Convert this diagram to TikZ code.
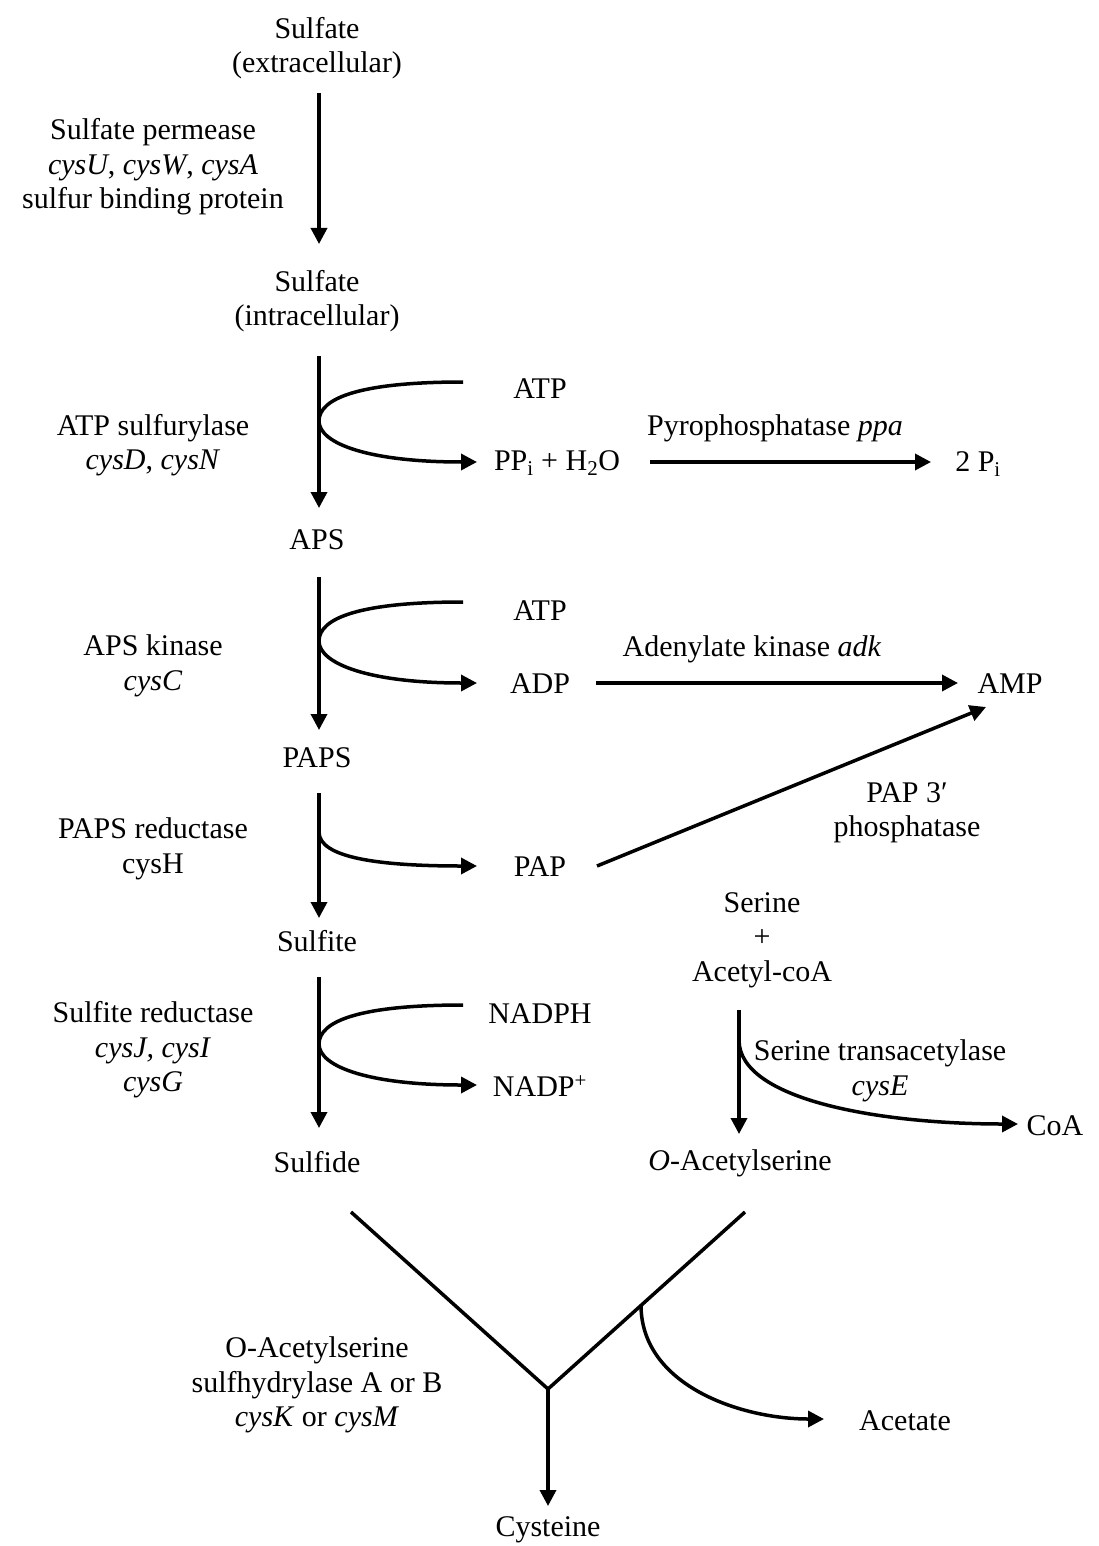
\documentclass[tikz,border=0pt]{standalone}
\usepackage{fontspec}
\setmainfont{Liberation Serif}
\usetikzlibrary{arrows.meta}
\begin{document}
\begin{tikzpicture}[x=1pt,y=-1pt,
  txt/.style={inner sep=0pt,align=center,font=\fontsize{30}{34.5}\selectfont},
  ln/.style={line width=3.5pt},
  arr/.style={line width=3.5pt,-{Triangle[length=16pt,width=16pt]}}]
\useasboundingbox (0,0) rectangle (1098,1546);
% main column texts
\node[txt] (sulfex) at (317,48) {Sulfate\\(extracellular)};
\node[txt] (sulfin) at (317,301) {Sulfate\\(intracellular)};
\node[txt] (aps) at (317,540) {APS};
\node[txt] (paps) at (317,758) {PAPS};
\node[txt] (sulfite) at (317,941) {Sulfite};
\node[txt] (sulfide) at (317,1162) {Sulfide};
\node[txt] (cys) at (548,1530) {Cysteine};
% enzymes
\node[txt] (e1) at (153,167) {Sulfate permease\\\textit{cysU}, \textit{cysW}, \textit{cysA}\\sulfur binding protein};
\node[txt] (e2) at (153,445) {ATP sulfurylase\\\textit{cysD}, \textit{cysN}};
\node[txt] (e3) at (153,666) {APS kinase\\\textit{cysC}};
\node[txt] (e4) at (153,849) {PAPS reductase\\cysH};
\node[txt] (e5) at (153,1050) {Sulfite reductase\\\textit{cysJ, cysI}\\\textit{cysG}};
\node[txt] (e6) at (317,1385) {O-Acetylserine\\sulfhydrylase A or B\\\textit{cysK} or \textit{cysM}};
% side species
\node[txt] (atp1) at (540,389) {ATP};
\node[txt] (ppi) at (557,463) {PP\textsubscript{i} + H\textsubscript{2}O};
\node[txt] (twopi) at (978,464) {2 P\textsubscript{i}};
\node[txt] (ppa) at (775,428) {Pyrophosphatase \textit{ppa}};
\node[txt] (atp2) at (540,611) {ATP};
\node[txt] (adp) at (540,684) {ADP};
\node[txt] (adk) at (752,649) {Adenylate kinase \textit{adk}};
\node[txt] (amp) at (1010,684) {AMP};
\node[txt] (pap) at (540,867) {PAP};
\node[txt] (pap3) at (907,813) {PAP 3′\\phosphatase};
\node[txt] (nadph) at (540,1014) {NADPH};
\node[txt] (nadp) at (540,1086) {NADP\textsuperscript{+}};
\node[txt] (ser) at (762,940) {Serine\\+\\Acetyl-coA};
\node[txt] (sta) at (880,1071) {Serine transacetylase\\\textit{cysE}};
\node[txt] (coa) at (1055,1126) {CoA};
\node[txt] (oas) at (740,1163) {\textit{O}-Acetylserine};
\node[txt] (acet) at (905,1421) {Acetate};
% coordinates
\coordinate (a1s) at (319,93); \coordinate (a1e) at (319,244);
\coordinate (a2s) at (319,356); \coordinate (a2e) at (319,508);
\coordinate (a3s) at (319,577); \coordinate (a3e) at (319,730);
\coordinate (a4s) at (319,793); \coordinate (a4e) at (319,918);
\coordinate (a5s) at (319,977); \coordinate (a5e) at (319,1128);
\coordinate (sers) at (739,1010); \coordinate (sere) at (739,1134);
\coordinate (yl) at (351,1212); \coordinate (yr) at (745,1212);
\coordinate (yj) at (548,1389); \coordinate (ye) at (548,1506);
\coordinate (acb) at (641,1305);
\coordinate (pps) at (650,462); \coordinate (ppe) at (931,462);
\coordinate (ads) at (596,683); \coordinate (ade) at (958,683);
\coordinate (paps0) at (597,866); \coordinate (pape) at (986,707);
% main arrows
\draw[arr] (a1s) -- (a1e);
\draw[arr] (a2s) -- (a2e);
\draw[arr] (a3s) -- (a3e);
\draw[arr] (a4s) -- (a4e);
\draw[arr] (a5s) -- (a5e);
\draw[arr] (sers) -- (sere);
% side arcs
\draw[arr] (463,382) .. controls (360,382) and (319,398) .. (319,421) .. controls (319,444) and (370,462) .. (477,462);
\draw[arr] (463,602) .. controls (360,602) and (319,618) .. (319,641) .. controls (319,664) and (370,683) .. (477,683);
\draw[arr] (319,832) .. controls (319,858) and (380,866) .. (477,866);
\draw[arr] (463,1005) .. controls (360,1005) and (319,1021) .. (319,1044) .. controls (319,1067) and (370,1085) .. (477,1085);
\draw[arr] (739,1040) .. controls (739,1100) and (880,1124) .. (1018,1124);
% horizontal arrows
\draw[arr] (pps) -- (ppe);
\draw[arr] (ads) -- (ade);
\draw[arr] (paps0) -- (pape);
% Y junction
\draw[ln] (yl) -- (yj) -- (yr);
\draw[arr] (yj) -- (ye);
\draw[arr] (acb) .. controls (641,1385) and (740,1419) .. (824,1419);
\end{tikzpicture}
\end{document}
